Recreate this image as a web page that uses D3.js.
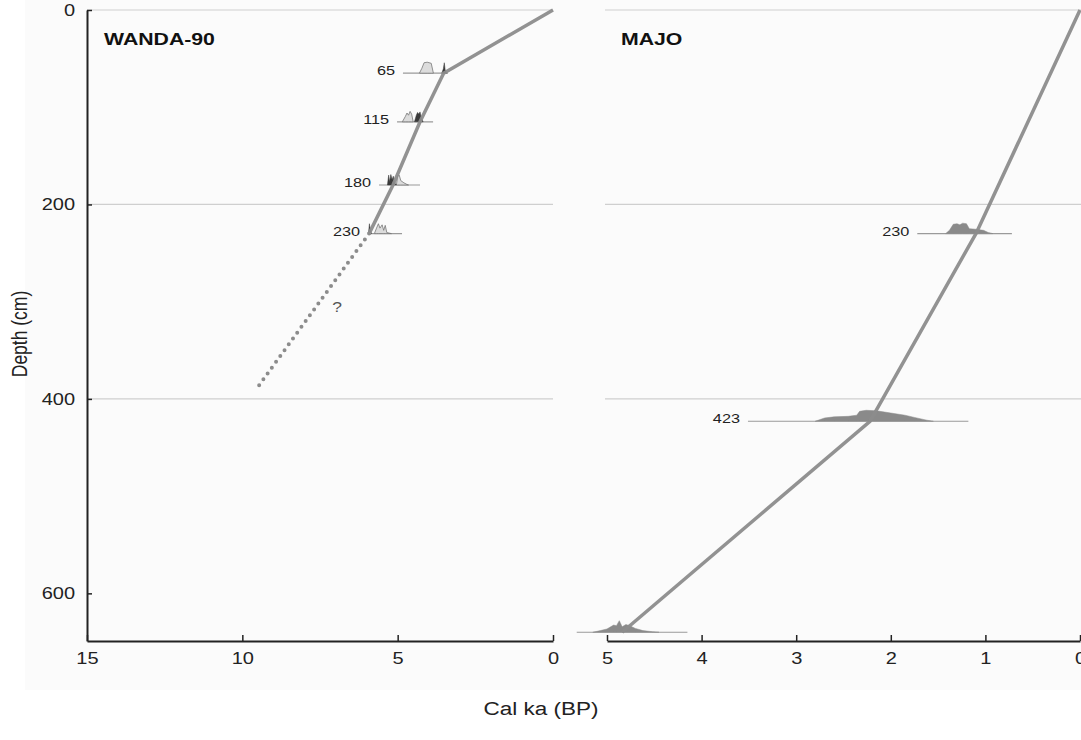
<!DOCTYPE html>
<html><head><meta charset="utf-8">
<script src="https://cdn.jsdelivr.net/npm/d3@7"></script>
<style>body{margin:0;background:#fff}svg{display:block;font-family:"Liberation Sans",Arial,sans-serif}</style>
</head><body><svg id="c" width="1081" height="740"></svg>
<script>
// ---- data ----
const depthTicks = [0, 200, 400, 600];
const gridDepths = [0, 200, 400];
const wandaTicksX = [15, 10, 5, 0];
const majoTicksX = [5, 4, 3, 2, 1, 0];

const wandaModelAge = [0, 3.52, 4.28, 5.15, 5.92];
const wandaModelDepth = [0, 65, 115, 180, 230];
const wandaExtrapAge = [5.92, 9.53];
const wandaExtrapDepth = [230, 389];
const wandaQuery = {age: 6.95, depth: 305, text: "?"};

const majoModelAge = [0, 1.1, 2.22, 4.84];
const majoModelDepth = [0, 230, 423, 640];

const wandaSampleDepths = [65, 115, 180, 230];
const wandaSampleLabels = ["65", "115", "180", "230"];
const wandaSampleRanges = [[4.83, 3.38], [5.02, 3.86], [5.6, 4.28], [5.95, 4.86]];
const wandaPdfLight = [
  [[4.30,0],[4.22,0.45],[4.15,0.95],[4.05,1],[3.92,0.9],[3.85,0]],
  [[4.85,0],[4.75,0.5],[4.70,0.8],[4.65,0.6],[4.60,0.95],[4.55,0.7],[4.50,0]],
  [[5.04,0],[5.0,0.85],[4.95,0.9],[4.9,0.4],[4.8,0.2],[4.7,0.05],[4.65,0]],
  [[5.75,0],[5.68,0.5],[5.62,0.9],[5.57,0.5],[5.50,0.8],[5.45,0.3],[5.40,0.75],[5.35,0.1],[5.2,0]]
];
const wandaPdfDark = [
  [[3.58,0],[3.53,0.4],[3.50,0.95],[3.47,0.3],[3.42,0]],
  [[4.46,0],[4.40,0.6],[4.36,0.85],[4.32,0.7],[4.28,0.9],[4.24,0.4],[4.18,0]],
  [[5.33,0],[5.29,0.9],[5.26,0.3],[5.22,0.95],[5.18,0.5],[5.14,0.8],[5.10,0.2],[5.04,0]],
  [[5.94,0],[5.91,0.9],[5.88,0.3],[5.84,0]]
];

const majoSampleDepths = [230, 423, 640];
const majoSampleLabels = ["230", "423", ""];
const majoSampleRanges = [[1.72, 0.72], [3.51, 1.18], [5.32, 4.15]];
const majoPdf = [
  [[1.42,0],[1.38,0.3],[1.34,0.85],[1.30,0.9],[1.27,0.8],[1.24,0.95],[1.20,0.9],[1.17,0.45],[1.10,0.4],[1.02,0.3],[0.97,0.1],[0.92,0]],
  [[2.80,0],[2.70,0.3],[2.60,0.4],[2.45,0.45],[2.36,0.55],[2.33,0.9],[2.26,1.0],[2.15,0.95],[2.0,0.75],[1.85,0.55],[1.75,0.35],[1.62,0.1],[1.55,0]],
  [[5.15,0],[5.07,0.15],[5.0,0.3],[4.97,0.45],[4.93,0.65],[4.90,0.6],[4.87,1.05],[4.84,0.5],[4.80,0.7],[4.76,0.6],[4.70,0.35],[4.62,0.15],[4.52,0.05],[4.45,0]]
];

const panelTitles = ["WANDA-90", "MAJO"];
const yLabel = "Depth (cm)";
const xLabel = "Cal ka (BP)";

// ---- drawing ----
const SX = 1.25; // horizontal text stretch seen in the reference
const svg = d3.select("#c");
svg.append("rect").attr("x", 25).attr("y", 0).attr("width", 1056).attr("height", 690).attr("fill", "#fbfbfb");

const y = d3.scaleLinear().domain([0, 649]).range([10, 641]);
const xL = d3.scaleLinear().domain([15, 0]).range([87, 553]);
const xR = d3.scaleLinear().domain([5, 0]).range([607, 1080]);
const h = d3.scaleLinear().domain([0, 1]).range([0, 11]);

function label(x, yy, txt, size, anchor, opts = {}) {
  const t = svg.append("text")
    .attr("transform", `translate(${x},${yy}) scale(${SX},1)` + (opts.rotate ? ` rotate(${opts.rotate})` : ""))
    .attr("text-anchor", anchor).attr("font-size", size).attr("fill", opts.fill || "#222")
    .text(txt);
  if (opts.bold) t.attr("font-weight", "bold");
  return t;
}

// gridlines
svg.append("g").selectAll("line").data(gridDepths).join("line")
  .attr("x1", 87).attr("x2", 553).attr("y1", d => y(d)).attr("y2", d => y(d))
  .attr("stroke", "#cfcfcf").attr("stroke-width", 1.2);
svg.append("g").selectAll("line").data(gridDepths).join("line")
  .attr("x1", 605).attr("x2", 1081).attr("y1", d => y(d)).attr("y2", d => y(d))
  .attr("stroke", "#cfcfcf").attr("stroke-width", 1.2);

function pdfArea(x, depth) {
  return d3.area().x(d => x(d[0])).y0(y(depth)).y1(d => y(depth) - h(d[1])).curve(d3.curveLinear);
}

function drawSamples(x, depths, labels, ranges, drawFn) {
  const g = svg.append("g");
  depths.forEach((dep, i) => {
    g.append("line").attr("x1", x(ranges[i][0])).attr("x2", x(ranges[i][1]))
      .attr("y1", y(dep)).attr("y2", y(dep)).attr("stroke", "#9a9a9a").attr("stroke-width", 1.2);
    drawFn(g, dep, i);
    if (labels[i]) label(x(ranges[i][0]) - 8, y(dep) + 2, labels[i], 13, "end");
  });
}

drawSamples(xL, wandaSampleDepths, wandaSampleLabels, wandaSampleRanges, (g, dep, i) => {
  g.append("path").attr("d", pdfArea(xL, dep)(wandaPdfLight[i]))
    .attr("fill", "#dcdcdc").attr("stroke", "#777").attr("stroke-width", 0.8);
  g.append("path").attr("d", pdfArea(xL, dep)(wandaPdfDark[i]))
    .attr("fill", "#3a3a3a").attr("stroke", "#3a3a3a").attr("stroke-width", 0.5);
});
drawSamples(xR, majoSampleDepths, majoSampleLabels, majoSampleRanges, (g, dep, i) => {
  g.append("path").attr("d", pdfArea(xR, dep)(majoPdf[i]))
    .attr("fill", "#8a8a8a").attr("stroke", "#8a8a8a").attr("stroke-width", 0.5);
});

// age models
const line = x => d3.line().x(d => x(d[0])).y(d => y(d[1]));
svg.append("path").attr("d", line(xL)(d3.zip(wandaModelAge, wandaModelDepth)))
  .attr("fill", "none").attr("stroke", "#8c8c8c").attr("stroke-width", 3.5).attr("opacity", 0.95);
svg.append("path").attr("d", line(xL)(d3.zip(wandaExtrapAge, wandaExtrapDepth)))
  .attr("fill", "none").attr("stroke", "#8c8c8c").attr("stroke-width", 4)
  .attr("stroke-linecap", "round").attr("stroke-dasharray", "0 7.2");
svg.append("path").attr("d", line(xR)(d3.zip(majoModelAge, majoModelDepth)))
  .attr("fill", "none").attr("stroke", "#8c8c8c").attr("stroke-width", 3.5).attr("opacity", 0.95);
label(xL(wandaQuery.age), y(wandaQuery.depth) + 5, wandaQuery.text, 14, "middle", {fill: "#555"});

// axes
function styleAxis(g) {
  g.select(".domain").attr("stroke", "#222").attr("stroke-width", 2);
  g.selectAll(".tick line").attr("stroke", "#222").attr("stroke-width", 1.5);
  g.selectAll(".tick text").attr("font-size", 16).attr("fill", "#222")
    .attr("font-family", "'Liberation Sans', Arial, sans-serif")
    .attr("transform", `scale(${SX},1)`);
}
const gy = svg.append("g").attr("transform", "translate(87,0)")
  .call(d3.axisLeft(y).tickValues(depthTicks).tickSize(-5).tickSizeOuter(0).tickPadding(12))
  .call(styleAxis);
gy.selectAll(".tick text").attr("x", -12 / SX);
svg.append("g").attr("transform", "translate(0,641)")
  .call(d3.axisBottom(xL).tickValues(wandaTicksX).tickSize(-6).tickSizeOuter(0).tickPadding(12).tickFormat(d3.format("d")))
  .call(styleAxis);
svg.append("g").attr("transform", "translate(0,641)")
  .call(d3.axisBottom(xR).tickValues(majoTicksX).tickSize(-6).tickSizeOuter(0).tickPadding(12).tickFormat(d3.format("d")))
  .call(styleAxis);

// titles
label(104, 45, panelTitles[0], 17, "start", {bold: true, fill: "#111"});
label(621, 45, panelTitles[1], 17, "start", {bold: true, fill: "#111"});

label(27, 334, yLabel, 17.5, "middle", {rotate: -90});
label(541, 715, xLabel, 18, "middle");
</script></body></html>
